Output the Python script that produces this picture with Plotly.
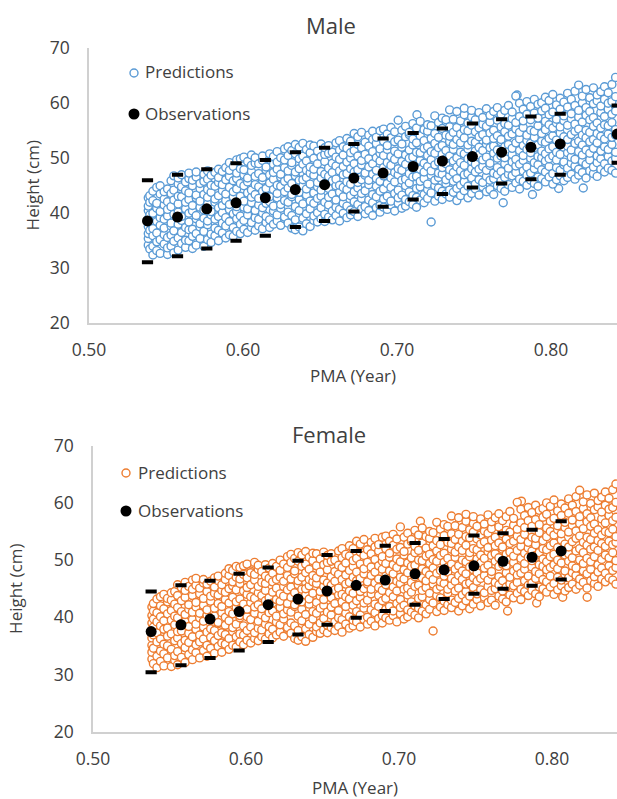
import plotly.graph_objects as go

OBS_X_M = [0.538,0.5575,0.5765,0.5955,0.6145,0.634,0.653,0.672,0.691,0.7105,0.7295,0.749,0.768,0.787,0.806,0.843]
OBS_M = [38.5,39.2,40.7,41.8,42.7,44.2,45.1,46.3,47.2,48.4,49.4,50.2,51.0,51.9,52.5,54.3]
UP_M = [45.9,46.9,47.9,49.0,49.6,51.0,51.8,52.5,53.5,54.5,55.3,56.2,57.0,57.5,58.0,59.5]
LO_M = [31.0,32.1,33.5,34.9,35.8,37.4,38.5,40.2,41.1,42.4,43.4,44.6,45.3,46.1,46.9,49.1]

OBS_X_F = [0.538,0.5575,0.5765,0.5955,0.6145,0.634,0.653,0.672,0.691,0.7105,0.7295,0.749,0.768,0.787,0.806]
OBS_F = [37.5,38.7,39.7,41.0,42.2,43.2,44.6,45.6,46.5,47.6,48.3,49.0,49.8,50.5,51.6]
UP_F = [44.5,45.6,46.4,47.6,48.7,49.9,50.9,51.6,52.5,53.0,53.7,54.3,54.7,55.3,56.8]
LO_F = [30.4,31.6,32.9,34.2,35.7,37.0,38.7,39.9,41.1,42.2,43.2,44.1,45.0,45.5,46.6]

# isolated predictions
EXTRA_X_M = [0.713,0.778,0.821,0.788,0.769,0.805]
EXTRA_Y_M = [57.8,61.4,44.5,43.3,41.8,44.4]
EXTRA_X_F = [0.714,0.780,0.790,0.771,0.823,0.807]
EXTRA_Y_F = [56.8,60.3,42.5,41.1,43.5,43.5]

PRED_M = {
0.5385:[34.1,35.3,36.2,37.5,38.9,40.4,41.2,42.7],
0.5395:[33.4,36.8,38.2,39.6,41.9,43.1],
0.5415:[32.3,33.9,35.8,37.1,39.9,42.2,43.9],
0.5440:[33.1,34.7,36.3,38.4,40.8,41.7,44.6],
0.5462:[32.6,35.1,37.7,39.1,40.2,43.4,44.9],
0.5488:[34.3,36.0,37.2,38.8,41.4,42.5,43.8],
0.5510:[32.4,33.6,35.5,39.4,40.6,42.0,44.3],
0.5533:[33.9,35.9,37.6,38.1,41.1,43.5,45.8],
0.5551:[32.7,34.8,36.7,39.7,42.3,44.1,46.7],
0.5579:[33.2,35.4,37.9,40.1,41.6,43.0,45.2,46.3],
0.5601:[34.4,36.4,38.6,39.3,42.9,44.7,46.9],
0.5627:[33.7,35.0,37.3,40.7,41.9,44.0,45.6],
0.5649:[34.9,36.9,38.3,39.9,42.4,43.6,46.2,47.2],
0.5672:[33.5,35.7,37.0,40.3,41.3,44.9,45.9],
0.5696:[34.1,36.2,38.9,39.5,42.7,43.2,46.5,47.4],
0.5721:[35.3,37.4,38.0,41.0,42.1,44.4,45.3],
0.5746:[33.9,36.6,39.0,40.5,43.3,45.7,47.0],
0.5770:[35.1,37.8,38.5,41.6,42.8,44.2,46.1,47.6],
0.5793:[34.6,36.1,39.6,40.2,43.7,45.0,46.8],
0.5818:[35.8,37.2,38.8,41.9,42.5,44.8,47.3],
0.5841:[34.9,36.8,39.3,40.9,43.1,45.5,46.4,47.9],
0.5866:[36.3,38.1,40.0,41.3,44.0,45.1,47.5],
0.5888:[35.4,37.6,39.1,42.2,43.4,46.0,48.2],
0.5912:[36.0,38.4,40.6,41.5,44.6,46.6,47.7,49.1],
0.5937:[35.7,37.3,39.8,42.9,43.8,45.8,48.4],
0.5959:[36.6,38.9,40.2,41.1,44.3,46.2,47.2,49.6],
0.5983:[36.2,37.9,39.4,42.4,43.0,45.3,48.0,49.8],
0.6006:[37.0,38.6,41.0,42.1,44.9,46.9,47.8,50.1],
0.6030:[36.4,39.6,40.7,43.6,45.6,46.3,49.3],
0.6055:[37.3,38.2,41.8,42.8,44.1,47.5,48.6,50.5],
0.6079:[36.8,39.1,40.4,43.3,45.1,46.6,49.0,50.0],
0.6102:[37.6,38.8,41.4,42.6,44.7,47.1,48.9],
0.6127:[37.1,39.9,40.9,43.9,45.9,46.4,49.5,50.3],
0.6150:[38.2,39.3,41.7,43.1,44.4,47.8,48.3],
0.6173:[37.3,38.7,42.0,42.9,45.4,46.9,49.7,50.7],
0.6198:[37.9,40.3,41.2,44.2,46.1,47.3,48.8,50.2],
0.6222:[38.5,39.6,42.7,43.5,45.0,47.9,49.2,51.1],
0.6245:[37.7,40.8,41.5,44.8,46.5,47.0,50.0],
0.6270:[38.9,39.2,42.2,43.8,45.7,48.2,49.6,51.6],
0.6293:[38.1,40.1,41.9,44.5,46.2,47.6,50.4,52.0],
0.6317:[37.2,39.5,42.9,43.3,45.3,48.6,49.1,51.3],
0.6340:[36.9,38.7,41.1,44.0,46.7,47.4,50.7,52.4],
0.6365:[37.4,40.4,42.4,43.7,45.9,48.0,49.8,51.9],
0.6389:[36.7,39.0,41.6,44.9,46.0,48.8,50.3,52.6],
0.6412:[38.0,39.8,43.2,44.3,46.4,47.7,49.4,51.5],
0.6436:[37.5,40.7,42.1,45.2,47.2,48.3,50.9,52.3],
0.6460:[38.6,39.4,41.7,43.6,46.8,47.9,49.9,52.1],
0.6484:[38.3,40.0,42.6,44.7,45.5,48.9,51.2],
0.6507:[38.9,40.9,43.0,44.1,46.3,47.5,50.2,52.5],
0.6531:[38.4,39.7,41.9,45.3,47.0,49.3,50.6,51.8],
0.6556:[39.2,41.4,42.8,44.4,46.6,48.1,50.8,52.2],
0.6580:[38.7,40.3,43.4,45.8,47.3,49.0,51.0],
0.6604:[39.5,41.0,42.3,44.9,46.1,48.5,50.1,52.7],
0.6627:[38.5,40.6,43.7,45.0,47.6,49.7,51.4,53.1],
0.6651:[39.9,41.7,42.9,44.6,46.9,48.4,50.5,52.0],
0.6675:[39.1,41.2,44.2,45.6,47.1,49.2,51.7,53.5],
0.6699:[39.6,40.5,43.1,45.2,48.0,49.9,50.9,53.0],
0.6722:[40.2,42.0,43.8,46.4,47.4,48.9,51.3,54.4],
0.6746:[39.3,41.5,44.5,45.5,47.8,50.3,52.4,53.8],
0.6770:[40.7,42.6,43.5,46.0,48.7,49.5,51.8,54.6],
0.6793:[39.8,41.1,44.0,46.8,47.2,50.6,52.8],
0.6817:[40.4,42.3,45.1,45.9,48.3,49.8,52.1,54.1],
0.6842:[39.5,41.8,43.3,47.0,48.9,51.1,53.3,54.8],
0.6866:[40.9,42.9,44.8,46.2,47.7,50.0,52.6,53.7],
0.6890:[40.1,41.3,43.9,45.7,49.4,50.8,51.6,54.9],
0.6913:[41.0,42.5,44.3,46.7,48.2,50.4,53.0,55.2],
0.6937:[40.6,43.0,45.3,47.5,49.1,51.5,52.2,54.3],
0.6961:[41.4,42.1,44.6,46.3,48.6,50.2,53.6,55.5],
0.6985:[40.3,43.5,45.6,47.3,49.7,51.2,52.9,54.7],
0.7008:[41.7,42.7,44.1,46.9,48.0,50.7,53.2,56.8],
0.7032:[40.8,43.2,45.9,47.7,49.3,51.9,52.5,55.0],
0.7056:[41.2,42.4,44.9,46.1,48.8,50.5,53.8,55.7],
0.7080:[42.0,43.8,45.4,47.1,49.9,51.4,54.2,54.6],
0.7103:[41.5,43.1,46.5,48.1,50.1,52.3,53.4,56.2],
0.7127:[41.0,42.8,44.4,46.6,48.5,51.0,52.7,55.4],
0.7151:[42.3,44.7,45.7,47.9,49.5,50.9,54.0,56.6],
0.7176:[41.8,43.3,46.2,47.4,49.0,51.7,53.1,55.1],
0.7199:[42.6,44.2,45.2,48.4,50.4,52.0,54.8,56.0],
0.7222:[38.3,43.6,46.8,47.6,49.6,51.1,53.5,55.8],
0.7246:[42.1,44.9,45.9,48.7,50.8,52.6,54.4,57.6],
0.7270:[43.0,44.5,46.4,47.2,49.2,51.8,53.7,56.4],
0.7294:[42.4,43.9,47.0,48.2,50.6,52.2,55.3,57.2],
0.7318:[43.4,45.3,46.0,48.9,49.8,51.3,54.1,56.9],
0.7342:[42.8,44.1,46.7,47.8,50.3,52.9,53.9,55.6,58.7],
0.7366:[43.7,45.7,47.3,49.4,51.5,52.4,54.6,57.0],
0.7389:[42.2,44.4,46.2,48.3,50.0,53.3,55.5,58.4],
0.7413:[43.1,45.0,47.6,49.1,51.0,52.7,54.3,56.7],
0.7437:[44.0,45.6,46.9,48.6,50.7,53.6,55.1,57.8,59.0],
0.7461:[42.7,44.8,47.1,49.8,51.6,52.3,54.9,56.3],
0.7485:[43.5,46.3,48.0,49.3,50.2,53.0,55.9,57.4,58.6],
0.7509:[44.3,45.2,47.4,48.8,51.2,52.8,54.7,56.9],
0.7533:[43.2,46.0,47.9,50.5,51.9,53.8,55.4,58.2],
0.7557:[44.7,45.5,48.4,49.6,51.3,54.2,56.1,57.3],
0.7581:[43.8,46.6,47.7,50.1,52.5,53.2,55.7,58.9],
0.7604:[44.2,45.9,48.6,49.0,51.8,54.5,56.5,57.7],
0.7628:[43.3,46.2,47.2,50.8,52.1,53.5,55.0,58.4],
0.7652:[44.9,46.9,48.2,49.9,51.4,54.0,56.8,59.1],
0.7676:[44.4,45.8,47.5,50.3,52.9,53.3,55.6,57.9],
0.7700:[43.9,46.4,48.9,50.0,52.0,54.7,56.2,58.6],
0.7724:[45.1,47.0,48.1,51.1,52.4,53.9,55.9,59.5],
0.7748:[44.6,46.7,49.2,50.6,51.7,54.3,57.1,58.3],
0.7772:[45.4,47.3,48.5,49.7,52.7,55.2,56.4,61.2],
0.7796:[44.3,46.1,48.8,51.3,53.4,54.6,57.5,59.9],
0.7820:[45.7,47.6,49.5,50.4,52.2,55.5,56.7,58.8],
0.7844:[45.0,46.8,48.3,51.5,53.1,54.1,57.9,60.2],
0.7868:[45.9,47.2,49.9,50.9,52.6,55.0,56.9,59.3],
0.7892:[45.3,48.0,49.1,51.8,53.7,54.8,58.1,60.6],
0.7916:[44.8,46.5,48.7,50.2,52.3,55.8,57.2,59.7],
0.7940:[46.2,47.8,50.0,51.2,53.0,54.4,58.5,60.0],
0.7964:[45.6,47.4,49.4,50.7,52.8,55.1,56.6,59.0,61.0],
0.7988:[46.5,48.4,49.8,51.6,53.5,56.0,57.8,60.4],
0.8012:[45.2,47.1,50.3,52.0,54.0,55.4,58.3,61.5],
0.8036:[46.0,48.2,49.6,51.0,53.2,56.3,57.0,59.6],
0.8060:[46.7,47.7,50.6,52.4,54.5,55.6,58.8,60.8],
0.8084:[45.8,48.7,49.2,51.9,53.8,56.7,57.6,60.1],
0.8108:[46.4,48.1,50.9,52.1,53.3,55.9,59.2,61.7],
0.8132:[47.0,49.0,50.1,51.4,54.2,57.1,58.0,60.6],
0.8156:[46.1,48.5,49.7,52.6,54.8,56.1,59.5,62.1],
0.8180:[46.8,47.9,51.1,53.0,55.2,57.4,58.6,63.2],
0.8204:[47.3,49.3,50.5,52.3,54.1,56.5,60.0,61.2],
0.8228:[46.3,48.8,51.4,53.6,55.0,57.7,59.1,62.4],
0.8252:[47.6,49.6,50.8,52.9,54.6,56.9,58.4,60.9],
0.8276:[47.1,48.3,51.7,53.3,55.7,57.3,59.8,62.7],
0.8300:[46.6,49.1,50.3,52.7,54.4,56.3,60.3,61.4],
0.8324:[47.9,49.8,51.2,53.9,55.4,58.2,59.4,62.0],
0.8348:[47.4,48.9,52.0,53.4,56.0,57.5,60.6,62.9],
0.8372:[48.1,50.2,51.5,54.3,55.8,58.8,59.9,61.8],
0.8396:[47.7,49.4,52.4,53.7,56.4,57.9,60.2,63.3],
0.8420:[47.2,49.9,51.0,54.1,55.1,58.5,61.1,64.6],
}

PRED_F = {
0.5385:[32.7,33.9,35.1,36.4,37.8,39.0,40.3,41.8],
0.5395:[31.9,34.6,36.9,38.3,39.7,41.1,42.4],
0.5418:[31.2,33.2,35.7,37.3,39.2,40.8,43.2],
0.5441:[32.3,34.1,36.2,38.5,40.1,42.0,43.6],
0.5463:[31.5,33.6,35.3,37.9,39.4,41.5,44.0],
0.5487:[32.9,35.0,36.7,38.1,40.6,42.7,43.3],
0.5512:[31.4,34.4,37.1,39.5,41.2,43.0,44.3],
0.5534:[32.5,33.3,35.9,38.7,40.2,42.3,44.5],
0.5553:[31.7,34.0,36.4,37.5,39.9,41.7,43.8,45.7],
0.5578:[33.0,35.4,37.6,38.9,41.0,42.9,45.2],
0.5602:[32.1,34.7,36.0,39.2,40.5,43.5,44.7,46.1],
0.5626:[33.5,35.6,37.2,38.4,41.4,42.2,45.4],
0.5650:[32.6,34.3,36.6,39.6,40.9,43.8,44.9,46.5],
0.5673:[33.8,35.2,37.9,38.8,41.8,42.6,45.6,46.8],
0.5697:[32.9,35.7,36.9,39.9,40.7,44.1,45.1],
0.5722:[34.2,36.2,38.3,39.3,42.1,43.3,46.0,46.6],
0.5745:[33.2,35.1,37.4,40.4,41.3,44.5,45.8],
0.5769:[34.6,36.5,38.0,39.7,42.8,43.7,46.3],
0.5794:[33.7,35.9,37.7,40.2,41.6,44.2,45.3,46.9],
0.5818:[34.9,36.8,38.9,39.1,42.4,43.9,46.4,47.2],
0.5842:[33.9,35.5,37.3,40.8,41.9,44.7,45.7],
0.5865:[35.3,37.0,38.6,40.0,43.1,44.4,46.6,47.7],
0.5889:[34.4,36.3,39.4,41.0,42.5,45.0,47.3,48.5],
0.5913:[35.1,37.5,38.2,40.6,43.5,45.5,46.2,48.2],
0.5936:[34.8,36.6,38.8,41.7,42.7,44.8,47.0,48.9],
0.5960:[35.7,37.1,39.9,40.3,43.2,45.9,46.7,48.7],
0.5984:[35.2,36.9,38.5,41.2,42.3,44.6,47.5,49.0],
0.6007:[36.0,37.7,40.1,41.4,44.0,45.2,46.9,49.3],
0.6031:[35.5,38.3,39.6,42.6,43.6,45.7,48.1,47.8],
0.6056:[36.3,37.3,40.7,41.8,43.3,46.5,47.5,49.6],
0.6080:[35.9,38.1,39.3,42.2,44.3,45.4,48.4,49.1],
0.6103:[36.6,37.8,40.4,41.5,43.8,46.1,48.0],
0.6127:[36.2,38.8,39.9,42.9,44.7,45.9,47.2,49.2],
0.6151:[37.1,38.4,40.8,42.0,43.4,46.8,48.6],
0.6174:[36.4,37.9,41.1,42.5,44.4,46.2,47.7,49.4],
0.6199:[36.9,39.2,40.2,43.1,45.1,46.6,48.8,48.9],
0.6223:[37.4,38.7,41.7,42.8,44.1,47.0,48.2,50.0],
0.6246:[36.7,39.7,40.6,43.7,45.4,46.3,49.3],
0.6271:[37.9,38.2,41.3,42.4,44.8,47.3,48.7,50.6],
0.6294:[37.2,39.0,40.9,43.5,45.3,46.7,49.6,51.0],
0.6318:[36.3,38.5,41.9,42.2,44.3,47.6,48.1,50.3],
0.6341:[36.0,37.7,40.2,43.0,45.7,46.4,49.8,51.3],
0.6365:[36.6,39.4,41.4,42.7,44.9,47.0,48.9,50.9],
0.6390:[35.8,38.0,40.5,43.9,45.0,47.8,49.3,51.5],
0.6413:[37.0,38.8,42.3,43.2,45.5,46.6,48.4,50.5],
0.6437:[36.5,39.7,41.0,44.2,46.2,47.3,49.9,51.2],
0.6461:[37.5,38.3,40.7,42.6,45.9,46.9,49.0,51.1],
0.6485:[37.2,39.0,41.6,43.7,44.5,47.9,50.2],
0.6508:[37.8,39.8,42.1,43.1,45.4,46.5,49.2,51.4],
0.6532:[37.3,38.6,40.9,44.4,46.0,48.3,49.6,50.8],
0.6557:[38.2,40.4,41.8,43.4,45.6,47.1,49.8,51.1],
0.6581:[37.7,39.2,42.4,44.8,46.3,48.0,50.0],
0.6605:[38.4,39.9,41.2,43.9,45.1,47.5,49.1,51.6],
0.6628:[37.4,39.6,42.7,44.0,46.6,48.7,50.4,52.0],
0.6652:[38.8,40.7,41.9,43.6,45.8,47.4,49.5,51.0],
0.6676:[38.1,40.1,43.2,44.6,46.1,48.2,50.7,52.5],
0.6700:[38.5,39.5,42.1,44.2,47.0,48.9,49.9,52.0],
0.6723:[39.2,41.0,42.9,45.4,46.4,47.9,50.3,53.3],
0.6747:[38.3,40.4,43.5,44.5,46.8,49.3,51.4,52.8],
0.6771:[39.6,41.6,42.5,45.0,47.6,48.5,50.8,53.6],
0.6794:[38.8,40.0,43.0,45.8,46.2,49.6,51.8],
0.6818:[39.3,41.3,44.1,44.9,47.3,48.8,51.1,53.1],
0.6843:[38.5,40.8,42.3,46.0,47.9,50.1,52.3,53.8],
0.6867:[39.8,41.9,43.8,45.2,46.7,49.0,51.6,52.7],
0.6891:[39.0,40.3,42.9,44.7,48.4,49.8,50.6,54.0],
0.6914:[39.9,41.4,43.3,45.7,47.2,49.4,52.0,54.2],
0.6938:[39.5,41.9,44.3,46.5,48.1,50.5,51.2,53.3],
0.6962:[40.3,41.1,43.6,45.3,47.6,49.2,52.6,54.5],
0.6986:[39.2,42.4,44.6,46.3,48.7,50.2,51.9,53.7],
0.7009:[40.6,41.7,43.1,45.9,47.0,49.7,52.2,55.8],
0.7033:[39.7,42.1,44.9,46.7,48.3,50.9,51.5,54.0],
0.7057:[40.1,41.3,43.9,45.1,47.8,49.5,52.8,54.7],
0.7081:[40.9,42.7,44.4,46.1,48.9,50.4,53.2,53.6],
0.7104:[40.4,42.0,45.4,47.1,49.1,51.3,52.4,55.2],
0.7128:[39.9,41.6,43.3,45.6,47.5,50.0,51.7,54.4],
0.7152:[41.1,43.6,44.7,46.9,48.5,49.9,53.0,55.6],
0.7177:[40.6,42.2,45.2,46.4,48.0,50.7,52.1,54.1],
0.7200:[41.4,43.1,44.2,47.4,49.4,51.0,53.8,55.0],
0.7223:[37.6,42.5,45.8,46.6,48.6,50.1,52.5,54.8],
0.7247:[41.0,43.8,44.9,47.7,49.8,51.6,53.4,56.6],
0.7271:[41.8,43.4,45.4,46.2,48.2,50.8,52.7,55.4],
0.7295:[41.2,42.8,45.9,47.2,49.6,51.2,54.3,56.2],
0.7319:[42.2,44.2,44.9,47.9,48.8,50.3,53.1,55.9],
0.7343:[41.7,43.0,45.6,46.8,49.3,51.9,52.9,54.6,57.7],
0.7367:[42.6,44.6,46.3,48.4,50.5,51.4,53.6,56.0],
0.7390:[41.1,43.3,45.1,47.3,49.0,52.3,54.5,57.4],
0.7414:[42.0,43.9,46.6,48.1,50.0,51.7,53.3,55.7],
0.7438:[42.9,44.5,45.8,47.6,49.7,52.6,54.1,56.8,58.0],
0.7462:[41.5,43.7,46.0,48.8,50.6,51.3,53.9,55.3],
0.7486:[42.3,45.2,46.9,48.3,49.2,52.0,54.9,56.4,57.6],
0.7510:[43.1,44.1,46.3,47.8,50.2,51.8,53.7,55.9],
0.7534:[42.0,44.8,46.8,49.5,50.9,52.8,54.4,57.2],
0.7558:[43.5,44.3,47.3,48.6,50.3,53.2,55.1,56.3],
0.7582:[42.6,45.4,46.5,49.1,51.5,52.2,54.7,57.9],
0.7605:[43.0,44.7,47.5,48.0,50.8,53.5,55.5,56.7],
0.7629:[42.1,45.0,46.1,49.8,51.1,52.5,54.0,57.4],
0.7653:[43.7,45.7,47.1,48.9,50.4,53.0,55.8,58.1],
0.7677:[43.2,44.6,46.4,49.3,51.9,52.3,54.6,56.9],
0.7701:[42.7,45.3,47.8,49.0,51.0,53.7,55.2,57.6],
0.7725:[43.9,45.8,47.0,50.1,51.4,52.9,54.9,58.5],
0.7749:[43.4,45.5,48.1,49.6,50.7,53.3,56.1,57.3],
0.7773:[44.2,46.1,47.4,48.7,51.7,54.2,55.4,60.1],
0.7797:[43.1,44.9,47.7,50.3,52.4,53.6,56.5,58.9],
0.7821:[44.5,46.4,48.4,49.4,51.2,54.5,55.7,57.8],
0.7845:[43.8,45.6,47.2,50.5,52.1,53.1,56.9,59.2],
0.7869:[44.7,46.0,48.8,49.9,51.6,54.0,55.9,58.3],
0.7893:[44.1,46.8,48.0,50.8,52.7,53.8,57.1,59.6],
0.7917:[43.6,45.3,47.6,49.2,51.3,54.8,56.2,58.7],
0.7941:[45.0,46.6,48.9,50.2,52.0,53.4,57.5,59.0],
0.7965:[44.4,46.2,48.3,49.7,51.8,54.1,55.6,58.0,60.0],
0.7989:[45.3,47.2,48.7,50.6,52.5,55.0,56.8,59.4],
0.8013:[44.0,45.9,49.2,51.0,53.0,54.4,57.3,60.5],
0.8037:[44.8,47.0,48.5,50.0,52.2,55.3,56.0,58.6],
0.8061:[45.5,46.5,49.5,51.4,53.5,54.6,57.8,59.8],
0.8085:[44.6,47.5,48.1,50.9,52.8,55.7,56.6,59.1],
0.8109:[45.2,46.9,49.8,51.1,52.3,54.9,58.2,60.7],
0.8133:[45.8,47.8,49.0,50.4,53.2,56.1,57.0,59.6],
0.8157:[44.9,47.3,48.6,51.6,53.8,55.1,58.5,61.1],
0.8181:[45.6,46.7,50.0,52.0,54.2,56.4,57.6,62.2],
0.8205:[46.1,48.1,49.4,51.3,53.1,55.5,59.0,60.2],
0.8229:[45.1,47.6,50.3,52.6,54.0,56.7,58.1,61.4],
0.8253:[46.4,48.4,49.7,51.9,53.6,55.9,57.4,59.9],
0.8277:[45.9,47.1,50.6,52.3,54.7,56.3,58.8,61.7],
0.8301:[45.4,47.9,49.2,51.7,53.4,55.3,59.3,60.4],
0.8325:[46.7,48.6,50.1,52.9,54.4,57.2,58.4,61.0],
0.8349:[46.2,47.7,50.9,52.4,55.0,56.5,59.6,61.9],
0.8373:[46.9,49.0,50.4,53.3,54.8,57.8,58.9,60.8],
0.8397:[46.5,48.2,51.3,52.7,55.4,56.9,59.2,62.3],
0.8418:[45.8,48.7,49.9,53.1,54.1,57.5,60.1,63.3],
}

BLUE = "#5B9BD5"
ORANGE = "#ED7D31"
TXT = "#404040"
FONT = "Open Sans"


def flat(d, ex, ey):
    xs, ys = list(ex), list(ey)
    for x, vals in d.items():
        for v in vals:
            xs.append(x)
            ys.append(v)
    return xs, ys


fig = go.Figure()


def add_panel(pred, ex, ey, ox, oy, up, lo, color, xa, ya):
    px, py = flat(pred, ex, ey)
    fig.add_trace(go.Scatter(x=px, y=py, mode="markers", name="Predictions", xaxis=xa, yaxis=ya, showlegend=False,
                             marker=dict(size=8, color="white", line=dict(color=color, width=1.4))))
    for bar, name in ((up, "Upper"), (lo, "Lower")):
        fig.add_trace(go.Scatter(x=ox, y=bar, mode="markers", name=name, xaxis=xa, yaxis=ya, showlegend=False,
                                 marker=dict(symbol="line-ew", size=8, line=dict(color="black", width=4))))
    fig.add_trace(go.Scatter(x=ox, y=oy, mode="markers", name="Observations", xaxis=xa, yaxis=ya, showlegend=False,
                             marker=dict(size=11, color="black")))


add_panel(PRED_M, EXTRA_X_M, EXTRA_Y_M, OBS_X_M, OBS_M, UP_M, LO_M, BLUE, "x", "y")
add_panel(PRED_F, EXTRA_X_F, EXTRA_Y_F, OBS_X_F, OBS_F, UP_F, LO_F, ORANGE, "x2", "y2")

W, H = 617, 799


def xaxis(left, right_val, standoff):
    return dict(domain=[left / W, 1], range=[0.5, right_val], dtick=0.1, tick0=0.5, tickformat=".2f",
                showgrid=False, zeroline=False, showline=True, linecolor="#D0D0D0", linewidth=1.5,
                ticks="outside", ticklen=11, tickcolor="rgba(0,0,0,0)", automargin=False,
                tickfont=dict(family=FONT, size=17.5, color=TXT),
                title=dict(text="PMA (Year)", standoff=standoff, font=dict(family=FONT, size=17, color=TXT)))


def yaxis(top, bottom, standoff):
    return dict(domain=[1 - bottom / H, 1 - top / H], range=[20, 70], dtick=10,
                showgrid=False, zeroline=False, showline=True, linecolor="#D0D0D0", linewidth=1.5,
                ticks="outside", ticklen=14, tickcolor="rgba(0,0,0,0)", automargin=False,
                tickfont=dict(family=FONT, size=17.5, color=TXT),
                title=dict(text="Height (cm)", standoff=standoff, font=dict(family=FONT, size=17, color=TXT)))


shapes, annos = [], []


def legend(cx, cy1, cy2, tx, color, title, title_x, title_y):
    shapes.append(dict(type="circle", xref="paper", yref="paper", xsizemode="pixel", ysizemode="pixel",
                       xanchor=cx / W, yanchor=1 - cy1 / H, x0=-4, x1=4, y0=-4, y1=4,
                       fillcolor="white", line=dict(color=color, width=1.4)))
    shapes.append(dict(type="circle", xref="paper", yref="paper", xsizemode="pixel", ysizemode="pixel",
                       xanchor=cx / W, yanchor=1 - cy2 / H, x0=-5.5, x1=5.5, y0=-5.5, y1=5.5,
                       fillcolor="black", line=dict(width=0)))
    for t, y in (("Predictions", cy1 - 1), ("Observations", cy2 - 1)):
        annos.append(dict(text=t, x=tx / W, y=1 - y / H, xref="paper", yref="paper", xanchor="left", yanchor="middle",
                          showarrow=False, font=dict(family=FONT, size=17, color=TXT)))
    annos.append(dict(text=title, x=title_x / W, y=1 - title_y / H, xref="paper", yref="paper", showarrow=False,
                      xanchor="center", yanchor="middle", font=dict(family=FONT, size=22, color=TXT)))


legend(134, 73, 114, 143, BLUE, "Male", 331, 25)
legend(126, 473, 511, 136, ORANGE, "Female", 329, 434)

fig.update_layout(
    width=W, height=H, margin=dict(l=0, r=0, t=0, b=0), paper_bgcolor="white", plot_bgcolor="white",
    showlegend=False,
    xaxis=xaxis(89, 0.8429, 10), yaxis=yaxis(47.7, 322.7, 6),
    xaxis2=dict(xaxis(93, 0.8425, 14), anchor="y2"), yaxis2=dict(yaxis(445.7, 731.7, 27), anchor="x2"),
    shapes=shapes, annotations=annos,
)

fig.write_html("out.html", config={"displayModeBar": False},
               post_script="document.body.style.margin='0';document.body.style.overflow='hidden';")
